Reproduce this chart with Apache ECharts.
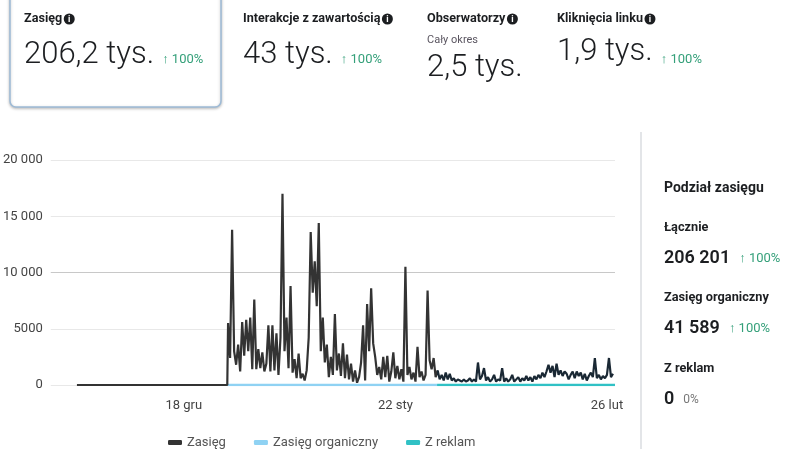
<!DOCTYPE html>
<html>
<head>
<meta charset="utf-8">
<script src="https://cdn.jsdelivr.net/npm/echarts@6/dist/echarts.min.js"></script>
<style>
  html, body { margin: 0; padding: 0; background: #fff; }
  #main { width: 787px; height: 449px; }
</style>
</head>
<body>
<div id="main"></div>
<script>
// KPI cards on top
const kpiTitles = ['Zasięg', 'Interakcje z zawartością', 'Obserwatorzy', 'Kliknięcia linku'];
const kpiValues = ['206,2 tys.', '43 tys.', '2,5 tys.', '1,9 tys.'];
const kpiChanges = ['↑ 100%', '↑ 100%', '', '↑ 100%'];
const kpiNote = 'Cały okres';

// right panel
const splitTitle = 'Podział zasięgu';
const splitNames = ['Łącznie', 'Zasięg organiczny', 'Z reklam'];
const splitValues = ['206 201', '41 589', '0'];
const splitChanges = ['↑ 100%', '↑ 100%', '0%'];

// x axis in days from 18 gru
const xTickDays = [0, 35, 70];
const xTickLabels = ['18 gru', '22 sty', '26 lut'];
const yTickLabels = ['0', '5000', '10 000', '15 000', '20 000'];

// zasieg: flat zero before the page got going, then 8-hour samples
const zeroDays = [-17.67, 7.2];
const activeFrom = 7.33;
const step = 1 / 3;
const reach = [
  5500, 2400, 13800, 3000, 1800, 3600, 1200, 5600, 2600, 5800,
  3000, 6000, 1400, 7600, 1400, 3200, 1500, 2900, 1200, 1900,
  5300, 1200, 5300, 1300, 4600, 900, 4200, 17000, 3000, 6000,
  1500, 8800, 1100, 2300, 600, 2800, 600, 1000, 400, 1300,
  4200, 13600, 8200, 11000, 7000, 14400, 3000, 6000, 2000, 3600,
  700, 2500, 900, 6300, 1300, 2800, 800, 3700, 600, 2700,
  500, 1900, 300, 1300, 200, 700, 2000, 5300, 400, 7200,
  3000, 8600, 3700, 2500, 900, 1600, 500, 2500, 700, 2600,
  300, 1200, 2900, 600, 1700, 500, 1400, 300, 10500, 900,
  1600, 500, 1100, 300, 3400, 700, 1200, 400, 900, 8400,
  2200, 1400, 2400, 700, 1300, 500, 900, 400, 1100, 500,
  1000, 400, 600, 300, 500, 400, 300, 500, 300, 400,
  600, 300, 500, 300, 2000, 500, 800, 1500, 400, 700,
  300, 500, 900, 300, 500, 400, 1500, 300, 600, 300,
  500, 900, 300, 500, 700, 300, 600, 400, 800, 400,
  700, 300, 800, 500, 900, 600, 1100, 700, 1200, 1800,
  1100, 1700, 700, 1900, 900, 1300, 800, 1200, 1000, 500,
  900, 1200, 600, 1200, 800, 1100, 500, 1000, 400, 800,
  1100, 700, 2400, 600, 900, 500, 800, 600, 900, 2400,
  700, 1000
];
const organicDays = [7.2, 41.9];
const organicReach = [0, 0];
const adsDays = [41.9, 71.33];
const adsReach = [0, 0];

const reachData = [[zeroDays[0], 0], [zeroDays[1], 0]].concat(
  reach.map((v, i) => [activeFrom + i * step, v])
);
const organicData = organicDays.map((d, i) => [d, organicReach[i]]);
const adsData = adsDays.map((d, i) => [d, adsReach[i]]);

const font = "Roboto, 'Noto Sans', sans-serif";
const green = '#35a07a';
const ink = '#1c1e21';

const chart = echarts.init(document.getElementById('main'), null, { renderer: 'canvas' });

// measure text so icons and percentages sit right after the words
const measureCtx = document.createElement('canvas').getContext('2d');
function textWidth(text, f) {
  measureCtx.font = f;
  return measureCtx.measureText(text).width;
}

function label(x, y, text, f, fill, sx) {
  return {
    type: 'text', x: x, y: y, scaleX: sx || 1, silent: true,
    style: { text: text, font: f, fill: fill || ink, textVerticalAlign: 'middle' }
  };
}
function info(x, y) {
  return [
    { type: 'circle', shape: { cx: x, cy: y, r: 5.5 }, style: { fill: ink }, silent: true },
    { type: 'text', x: x, y: y + 0.5, silent: true,
      style: { text: 'i', font: 'bold 9px Roboto', fill: '#fff', textAlign: 'center', textVerticalAlign: 'middle' } }
  ];
}

// layout of the top strip and the side panel
const kpiX = [24, 243, 427, 557];
const kpiValueY = [55, 55, 68, 52];
const titleFont = 'bold 13px ' + font;
const titleScale = 0.97;
const bigFont = '300 31px ' + font;
const changeFont = '13px ' + font;
const splitY = [228, 298, 369];

let graphics = [
  { type: 'rect', shape: { x: 10, y: -10, width: 211, height: 117, r: 6 },
    style: { fill: '#fff', stroke: '#9dbad6', lineWidth: 1.5, shadowBlur: 3, shadowOffsetY: 1, shadowColor: 'rgba(0,0,0,0.25)' }, silent: true },
  { type: 'line', shape: { x1: 641, y1: 132, x2: 641, y2: 449 }, style: { stroke: '#e3e5e8', lineWidth: 2 }, silent: true }
];
kpiTitles.forEach((t, i) => {
  graphics.push(label(kpiX[i], 19, t, titleFont, ink, titleScale));
  graphics = graphics.concat(info(kpiX[i] + textWidth(t, titleFont) * titleScale + 7, 19));
  graphics.push(label(kpiX[i], kpiValueY[i], kpiValues[i], bigFont, '#1c1e21'));
  if (kpiChanges[i]) {
    graphics.push(label(kpiX[i] + textWidth(kpiValues[i], bigFont) + 8, 60, kpiChanges[i], changeFont, green));
  }
});
graphics.push(label(427, 40, kpiNote, '11px ' + font, '#5a5560'));

graphics.push(label(664, 188, splitTitle, 'bold 14px ' + font, ink, 1.0));
splitNames.forEach((n, i) => {
  const vf = '600 18px ' + font;
  graphics.push(label(664, splitY[i], n, 'bold 13px ' + font, ink, 0.98));
  graphics.push(label(664, splitY[i] + 30, splitValues[i], vf));
  graphics.push(label(664 + textWidth(splitValues[i], vf) + 9, splitY[i] + 31, splitChanges[i],
    i < 2 ? changeFont : '12px ' + font, i < 2 ? green : '#777'));
});

// late part of the reach line turns a darker navy where the ads line starts
const switchAt = (adsDays[0] - zeroDays[0]) / (adsDays[1] - zeroDays[0]);
const reachColor = new echarts.graphic.LinearGradient(0, 0, 1, 0, [
  { offset: 0, color: '#333333' }, { offset: switchAt, color: '#333333' },
  { offset: switchAt, color: '#1a2834' }, { offset: 1, color: '#1a2834' }
]);

const option = {
  animation: false,
  backgroundColor: '#fff',
  grid: { left: 50, right: 172, top: 160, bottom: 64 },
  legend: {
    left: 163, top: 431,
    icon: 'roundRect', itemWidth: 14, itemHeight: 5, itemGap: 28,
    textStyle: { fontSize: 13, color: '#555', fontFamily: font },
    data: ['Zasięg', 'Zasięg organiczny', 'Z reklam']
  },
  xAxis: {
    // one tick per day, only three of them get a label
    type: 'value', min: -22, max: 71.33, interval: 1,
    axisLine: { show: false }, axisTick: { show: false }, splitLine: { show: false },
    axisLabel: {
      interval: 0, margin: 14, showMaxLabel: false,
      color: '#444', fontSize: 13, fontFamily: font,
      formatter: v => {
        const k = xTickDays.indexOf(Math.round(v));
        return Math.abs(v - Math.round(v)) < 0.01 && k >= 0 ? xTickLabels[k] : '';
      }
    }
  },
  yAxis: {
    type: 'value', min: 0, max: 20000, interval: 5000,
    axisLine: { show: false }, axisTick: { show: false },
    axisLabel: {
      margin: 8, color: '#444', fontSize: 13, fontFamily: font,
      formatter: v => yTickLabels[Math.round(v / 5000)]
    },
    splitLine: { lineStyle: { color: ['#e8e8e8', '#e8e8e8', '#c8c8c8', '#e8e8e8', '#e8e8e8'], width: 1 } }
  },
  series: [
    { name: 'Zasięg', type: 'line', data: reachData, showSymbol: false, z: 3,
      color: '#333', lineStyle: { width: 2.2, color: reachColor } },
    { name: 'Zasięg organiczny', type: 'line', data: organicData, showSymbol: false, z: 2,
      color: '#8fd2f3', lineStyle: { width: 2.5 } },
    { name: 'Z reklam', type: 'line', data: adsData, showSymbol: false, z: 2,
      color: '#30c1c5', lineStyle: { width: 2.5 } }
  ],
  graphic: graphics
};
chart.setOption(option);
</script>
</body>
</html>
